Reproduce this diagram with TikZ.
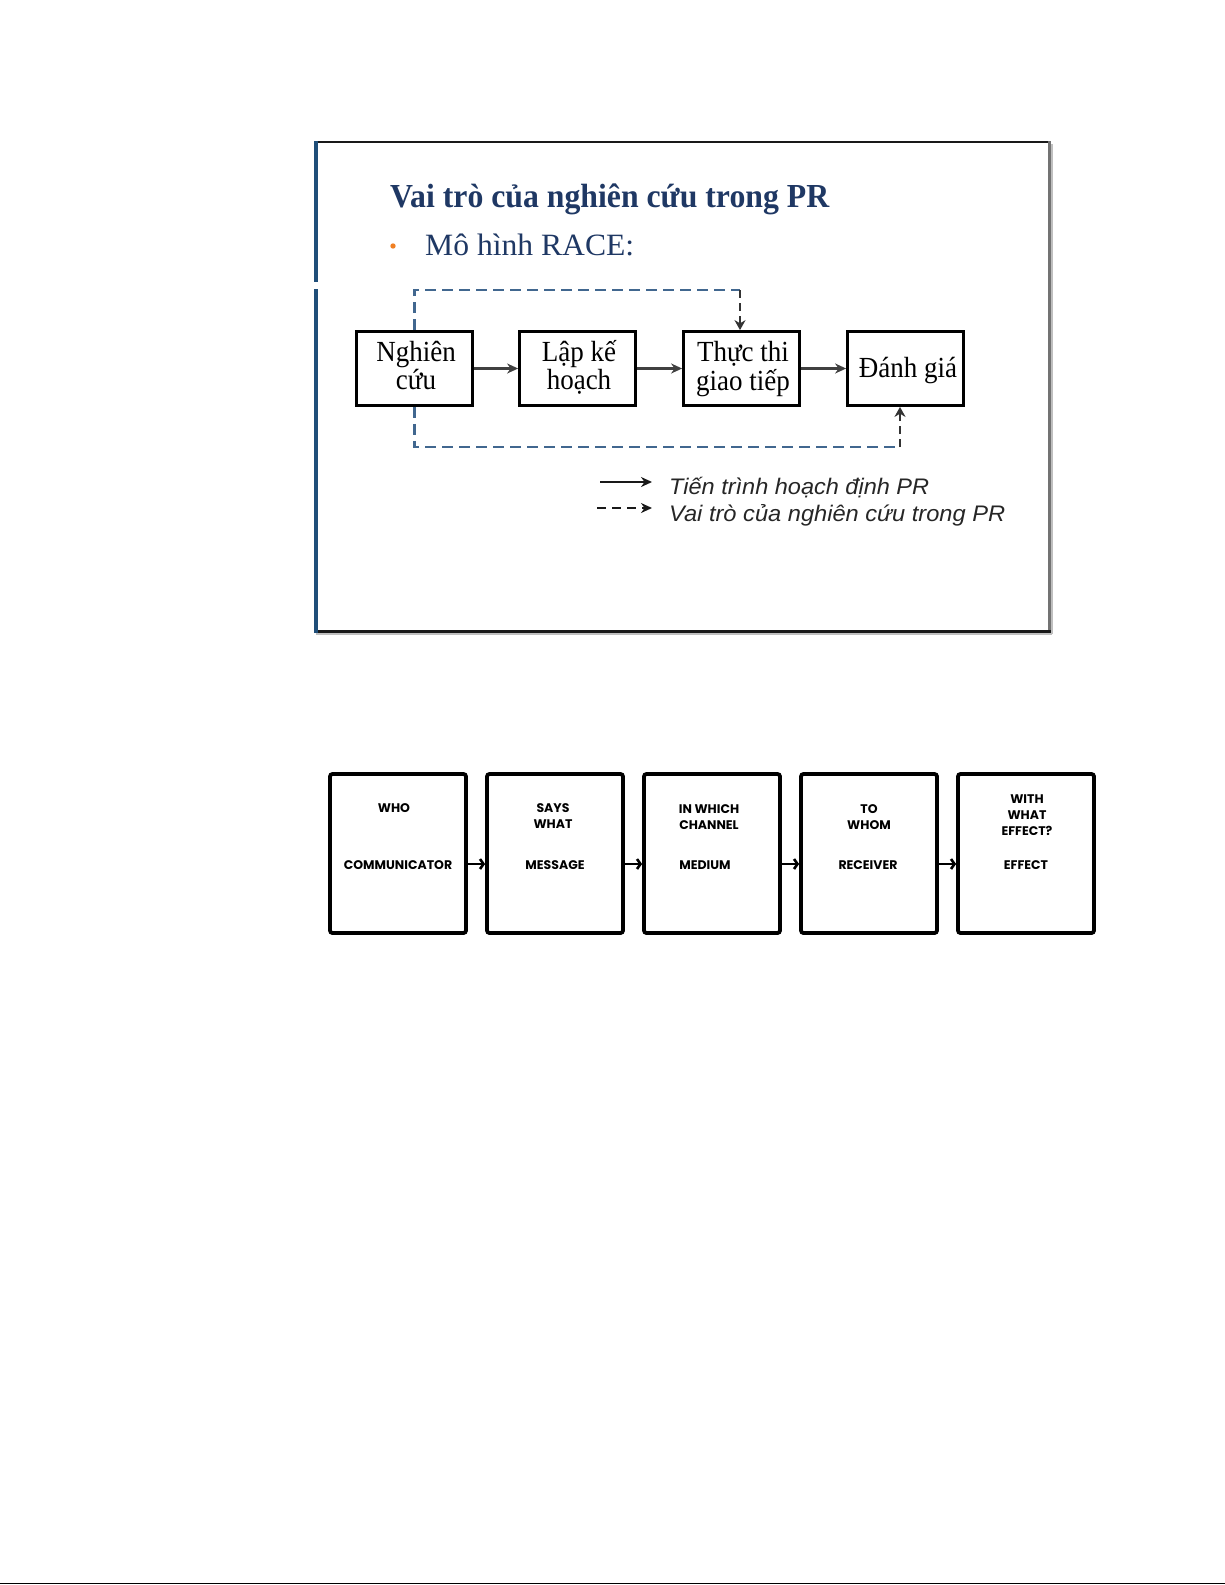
\documentclass[tikz,border=0pt]{standalone}
\usepackage{fontspec}
\setmainfont{Liberation Serif}
\newfontfamily\arialfont{Liberation Sans}
\newfontfamily\gothicfont{Poppins}
\usetikzlibrary{arrows.meta}
\definecolor{titleblue}{HTML}{1F3864}
\definecolor{barblue}{HTML}{1F4E79}
\definecolor{dashblue}{HTML}{41678F}
\definecolor{bulletorange}{HTML}{F07F22}
\newcommand\fs[2]{\fontsize{#1}{#2}\selectfont}
\newcommand\vst[1]{\scalebox{1}[1.08]{#1}}
\begin{document}
\begin{tikzpicture}[x=1pt,y=-1pt,
  racebox/.style={draw, line width=2.8pt, minimum width=116pt, minimum height=74pt, inner sep=0},
  racetext/.style={anchor=base, inner sep=0, font=\fs{27}{25}},
  flow/.style={draw=black!75, line width=2.6pt, -{Stealth[length=11pt,width=10pt]}},
  dashline/.style={draw=dashblue, line width=2.8pt, dash pattern=on 11pt off 6pt},
  dashdark/.style={draw=black!80, line width=2.8pt, dash pattern=on 8pt off 5pt, -{Stealth[length=10pt,width=11pt]}},
  legsolid/.style={draw=black!90, line width=2.6pt, -{Stealth[length=11pt,width=10pt]}},
  legdash/.style={draw=black!90, line width=2.6pt, dash pattern=on 9pt off 6pt, -{Stealth[length=11pt,width=10pt]}},
  legtext/.style={anchor=base west, inner sep=0, text=black!85, font=\arialfont\itshape\fs{22.5}{27}},
  combox/.style={draw, line width=3.8pt, rounded corners=2.5pt, minimum width=136pt, minimum height=159pt, inner sep=0},
  comtext/.style={anchor=base, inner sep=0, font=\gothicfont\bfseries\fs{12.5}{16}},
  comarrow/.style={draw, line width=2.6pt, -{Straight Barb[length=3.5pt,width=10pt]}}
]
\useasboundingbox (0,0) rectangle (1225,1585);
\fill[white] (0,0) rectangle (1225,1585);

% slide frame
\draw[line width=2pt, black!90] (314,142) -- (1049,142);
\draw[line width=3pt, black!55] (1049,141) -- (1049,632);
\draw[line width=1.5pt, black!25] (1052,144) -- (1052,634);
\draw[line width=3pt, black!90] (314,631) -- (1051,631);
\draw[line width=1.5pt, black!25] (316,634) -- (1052,634);
\draw[line width=4pt, barblue] (316,141) -- (316,282);
\draw[line width=4pt, barblue] (316,289) -- (316,633);

% title
\node[anchor=base west, inner sep=0, text=titleblue, font=\fs{32}{38}\bfseries] (title) at (390,207)
  {\resizebox{439pt}{1.05\height}{Vai trò của nghiên cứu trong PR}};
\fill[bulletorange] (393,246) circle (2.7);
\node[anchor=base west, inner sep=0, text=titleblue, font=\fs{31}{37}] (sub) at (425,255)
  {\resizebox{209pt}{\height}{Mô hình RACE:}};

% RACE boxes
\node[racebox] (r1) at (414.5,368.5) {};
\node[racebox] (r2) at (577.5,368.5) {};
\node[racebox] (r3) at (741.5,368.5) {};
\node[racebox] (r4) at (905.5,368.5) {};
\node[racetext] (t1) at (416,361) {\vst{\begin{tabular}[t]{@{}c@{}}Nghiên\\cứu\end{tabular}}};
\node[racetext] (t2) at (579,361) {\vst{\begin{tabular}[t]{@{}c@{}}Lập kế\\hoạch\end{tabular}}};
\node[racetext] (t3) at (743,361) {\vst{\begin{tabular}[t]{@{}c@{}}Thực thi\\giao tiếp\end{tabular}}};
\node[racetext] (t4) at (908,377) {\vst{Đánh giá}};

\draw[flow] (r1.east) -- (r2.west);
\draw[flow] (r2.east) -- (r3.west);
\draw[flow] (r3.east) -- (r4.west);

% dashed research connectors
\coordinate (d1) at (414.5,290);
\coordinate (d2) at (740,290);
\draw[dashline] (r1.north) -- (d1) -- (d2);
\draw[dashdark] (d2) -- (r3.north -| d2);
\coordinate (e1) at (414.5,447);
\coordinate (e2) at (900,447);
\draw[dashline] (r1.south) -- (e1) -- (e2);
\draw[dashdark] (e2) -- (r4.south -| e2);

% legend
\coordinate (l1s) at (600,482);
\coordinate (l1e) at (652,482);
\draw[legsolid] (l1s) -- (l1e);
\coordinate (l2s) at (597,508);
\coordinate (l2e) at (652,508);
\draw[legdash] (l2s) -- (l2e);
\node[legtext] (lg1) at (669,494) {\resizebox{260pt}{\height}{Tiến trình hoạch định PR}};
\node[legtext] (lg2) at (669,521) {\resizebox{336pt}{\height}{Vai trò của nghiên cứu trong PR}};

% Lasswell boxes
\node[combox] (k1) at (398,853.5) {};
\node[combox] (k2) at (555,853.5) {};
\node[combox] (k3) at (712,853.5) {};
\node[combox] (k4) at (869,853.5) {};
\node[combox] (k5) at (1026,853.5) {};

\node[comtext] (a1) at (394,812) {WHO};
\node[comtext] (b1) at (398,869) {COMMUNICATOR};
\node[comtext] (a2) at (553,812) {\begin{tabular}[t]{@{}c@{}}SAYS\\WHAT\end{tabular}};
\node[comtext] (b2) at (555,869) {MESSAGE};
\node[comtext] (a3) at (709,813) {\begin{tabular}[t]{@{}c@{}}IN WHICH\\CHANNEL\end{tabular}};
\node[comtext] (b3) at (705,869) {MEDIUM};
\node[comtext] (a4) at (869,813) {\begin{tabular}[t]{@{}c@{}}TO\\WHOM\end{tabular}};
\node[comtext] (b4) at (868,869) {RECEIVER};
\node[comtext] (a5) at (1027,803) {\begin{tabular}[t]{@{}c@{}}WITH\\WHAT\\EFFECT?\end{tabular}};
\node[comtext] (b5) at (1026,869) {EFFECT};

\coordinate (mid) at (0,864);
\draw[comarrow] (k1.east |- mid) -- (k2.west |- mid);
\draw[comarrow] (k2.east |- mid) -- (k3.west |- mid);
\draw[comarrow] (k3.east |- mid) -- (k4.west |- mid);
\draw[comarrow] (k4.east |- mid) -- (k5.west |- mid);

% page bottom rule
\draw[line width=1.4pt] (0,1583.3) -- (1225,1583.3);
\end{tikzpicture}
\end{document}
